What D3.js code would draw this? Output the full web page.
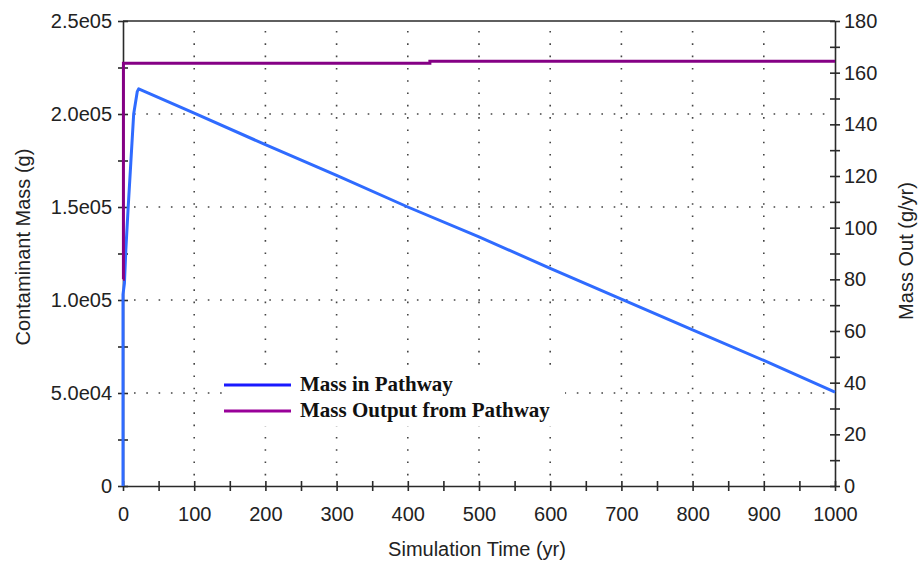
<!DOCTYPE html>
<html>
<head>
<meta charset="utf-8">
<script src="https://cdn.jsdelivr.net/npm/d3@7/dist/d3.min.js"></script>
<style>
  html, body { margin: 0; padding: 0; background: #fff; }
  svg { display: block; }
</style>
</head>
<body>
<svg id="chart" width="919" height="567"></svg>
<script>
// ---------- data ----------
const massTime  = [0, 0, 2, 4, 7, 11, 15, 20, 22, 100, 200, 300, 400, 500, 600, 700, 800, 900, 1000];
const massValue = [0, 103000, 109000, 127000, 148000, 174000, 200000, 212000, 213500, 200500, 183500, 167000, 150000, 134000, 117000, 100500, 84000, 67500, 50500];

const outTime  = [0, 0.6, 431, 1000];
const outValue = [80, 163.6, 164.4, 164.4];

const xTicks      = [0, 100, 200, 300, 400, 500, 600, 700, 800, 900, 1000];
const xMinorTicks = [50, 150, 250, 350, 450, 550, 650, 750, 850, 950];
const yLeftTicks  = [0, 50000, 100000, 150000, 200000, 250000];
const yLeftLabels = ["0", "5.0e04", "1.0e05", "1.5e05", "2.0e05", "2.5e05"];
const yLeftMinor  = [25000, 75000, 125000, 175000, 225000];
const yRightTicks = [0, 20, 40, 60, 80, 100, 120, 140, 160, 180];
const yRightMinor = [10, 30, 50, 70, 90, 110, 130, 150, 170];

const seriesNames = ["Mass in Pathway", "Mass Output from Pathway"];
const xTitle = "Simulation Time (yr)";
const yLeftTitle = "Contaminant Mass (g)";
const yRightTitle = "Mass Out (g/yr)";

// ---------- layout ----------
const X0 = 123, X1 = 835, Y0 = 21, Y1 = 486;
const svg = d3.select("#chart");
const x = d3.scaleLinear().domain([0, 1000]).range([X0, X1]);
const yL = d3.scaleLinear().domain([0, 250000]).range([Y1, Y0]);
const yR = d3.scaleLinear().domain([0, 180]).range([Y1, Y0]);

const axisColor = "#2a2a2a";
const labelColor = "#222";
const fontFam = "'Liberation Sans', Arial, sans-serif";
const fs = 20;

// grid (dotted)
const grid = svg.append("g");
grid.selectAll("line.v").data(xTicks.filter(d => d > 0 && d < 1000)).enter().append("line")
  .attr("x1", d => x(d)).attr("x2", d => x(d)).attr("y1", Y0).attr("y2", Y1)
  .attr("stroke", "#444").attr("stroke-width", 1.6).attr("stroke-dasharray", "1.6 10.7")
  .attr("stroke-dashoffset", -10);
grid.selectAll("line.h").data(yLeftTicks.filter(d => d > 0 && d < 250000)).enter().append("line")
  .attr("x1", X0).attr("x2", X1).attr("y1", d => yL(d)).attr("y2", d => yL(d))
  .attr("stroke", "#444").attr("stroke-width", 1.6).attr("stroke-dasharray", "1.6 10.7")
  .attr("stroke-dashoffset", -11);

// frame top
svg.append("line").attr("x1", X0).attr("x2", X1).attr("y1", Y0).attr("y2", Y0)
  .attr("stroke", axisColor).attr("stroke-width", 1.6);

function styleAxis(g) {
  g.select(".domain").attr("stroke", axisColor).attr("stroke-width", 1.6);
  g.selectAll(".tick line").attr("stroke", axisColor).attr("stroke-width", 1.6);
  g.selectAll(".tick text").attr("fill", labelColor).attr("font-family", fontFam).attr("font-size", fs);
}

// left axis
const gL = svg.append("g").attr("transform", `translate(${X0},0)`)
  .call(d3.axisLeft(yL).tickValues(yLeftTicks).tickFormat((d, i) => yLeftLabels[i]).tickSize(5).tickPadding(6).tickSizeOuter(0));
styleAxis(gL);
gL.selectAll(".tick line").attr("x1", 5);
const gLm = svg.append("g").attr("transform", `translate(${X0},0)`)
  .call(d3.axisLeft(yL).tickValues(yLeftMinor).tickFormat("").tickSize(5).tickSizeOuter(0));
styleAxis(gLm); gLm.select(".domain").remove();
gLm.selectAll(".tick line").attr("x1", 5);

// right axis
const gR = svg.append("g").attr("transform", `translate(${X1},0)`)
  .call(d3.axisRight(yR).tickValues(yRightTicks).tickFormat(d3.format("d")).tickSize(5).tickPadding(4).tickSizeOuter(0));
styleAxis(gR);
gR.selectAll(".tick line").attr("x1", -5);
const gRm = svg.append("g").attr("transform", `translate(${X1},0)`)
  .call(d3.axisRight(yR).tickValues(yRightMinor).tickFormat("").tickSize(5).tickSizeOuter(0));
styleAxis(gRm); gRm.select(".domain").remove();
gRm.selectAll(".tick line").attr("x1", -5);

// bottom axis
const gB = svg.append("g").attr("transform", `translate(0,${Y1})`)
  .call(d3.axisBottom(x).tickValues(xTicks).tickFormat(d3.format("d")).tickSize(5).tickPadding(16).tickSizeOuter(0));
styleAxis(gB);
gB.selectAll(".tick line").attr("y1", -5);
const gBm = svg.append("g").attr("transform", `translate(0,${Y1})`)
  .call(d3.axisBottom(x).tickValues(xMinorTicks).tickFormat("").tickSize(5).tickSizeOuter(0));
styleAxis(gBm); gBm.select(".domain").remove();
gBm.selectAll(".tick line").attr("y1", -5);

// lines
const massData = massTime.map((t, i) => [t, massValue[i]]);
const outData = outTime.map((t, i) => [t, outValue[i]]);
svg.append("path").datum(massData)
  .attr("d", d3.line().x(d => x(d[0])).y(d => yL(d[1])))
  .attr("fill", "none").attr("stroke", "#2f6bff").attr("stroke-width", 3).attr("stroke-linejoin", "round");
svg.append("path").datum(outData)
  .attr("d", d3.line().curve(d3.curveStepAfter).x(d => x(d[0])).y(d => yR(d[1])))
  .attr("fill", "none").attr("stroke", "#850085").attr("stroke-width", 3);

// legend
const leg = svg.append("g");
leg.append("rect").attr("x", 222).attr("y", 372).attr("width", 343).attr("height", 54).attr("fill", "#fff");
const legColors = ["#1a1aff", "#990099"];
const legY = [385, 411];
seriesNames.forEach((n, i) => {
  leg.append("line").attr("x1", 224).attr("x2", 291).attr("y1", legY[i]).attr("y2", legY[i])
    .attr("stroke", legColors[i]).attr("stroke-width", 3);
  leg.append("text").attr("x", 300).attr("y", legY[i] + 6)
    .attr("font-family", "'Liberation Serif', 'Times New Roman', serif")
    .attr("font-weight", "bold").attr("font-size", 21).attr("fill", "#111").text(n);
});

// titles
svg.append("text").attr("x", 477).attr("y", 556).attr("text-anchor", "middle")
  .attr("font-family", fontFam).attr("font-size", fs).attr("fill", labelColor).text(xTitle);
svg.append("text").attr("transform", "translate(30,247) rotate(-90)").attr("text-anchor", "middle")
  .attr("font-family", fontFam).attr("font-size", fs).attr("fill", labelColor).text(yLeftTitle);
svg.append("text").attr("transform", "translate(913,251) rotate(-90)").attr("text-anchor", "middle")
  .attr("font-family", fontFam).attr("font-size", fs).attr("fill", labelColor).text(yRightTitle);
</script>
</body>
</html>
